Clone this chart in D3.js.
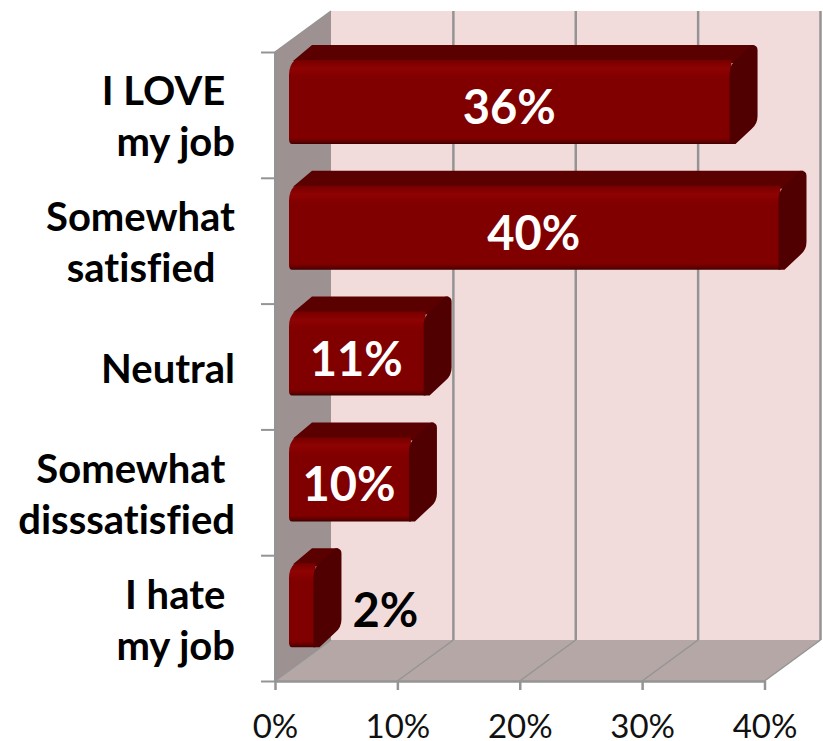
<!DOCTYPE html>
<html><head><meta charset="utf-8">
<script src="https://cdn.jsdelivr.net/npm/d3@7"></script>
<style>html,body{margin:0;padding:0;background:#fff}svg{display:block}text{font-family:Lato,"Open Sans",sans-serif;font-variant-ligatures:none;white-space:pre}</style>
</head><body><svg id="c" width="823" height="741"></svg>
<script>
const categoryLines = [["I LOVE ","my job"],["Somewhat","satisfied  "],["Neutral"],["Somewhat ","disssatisfied"],["I hate ","my job"]];
const values = [36, 40, 11, 9.8, 2];
const valueLabels = ["36%","40%","11%","10%","2%"];
const xTicks = [0, 10, 20, 30, 40];
const AXIS = "#949494";

const svg = d3.select("#c");
const defs = svg.append("defs");
const x = d3.scaleLinear().domain([0, 40]).range([275, 764.5]);
const yEdge = d3.scaleLinear().domain([0, 5]).range([52, 681]);
const depthX = 56, depthY = 41;
const barInset = 14, barDX = 28, barDY = 20;

// walls
const topY = yEdge(0), botY = yEdge(5), x0 = x(0), x1 = x(40);
const poly = (pts, fill) => svg.append("polygon").attr("points", pts.map(p => p.join(",")).join(" ")).attr("fill", fill);
poly([[x0+depthX, topY-depthY],[x1+depthX, topY-depthY],[x1+depthX, botY-depthY],[x0+depthX, botY-depthY]], "#f2dcdb");
poly([[x0, topY],[x0+depthX, topY-depthY],[x0+depthX, botY-depthY],[x0, botY]], "#9e9191");
poly([[x0, botY],[x0+depthX, botY-depthY],[x1+depthX, botY-depthY],[x1, botY]], "#b6a7a7");

// gridlines
xTicks.forEach((t, i) => {
  const X = x(t);
  const g = svg.append("g").attr("fill", "none").attr("stroke", AXIS);
  if (i > 0) {
    g.append("line").attr("x1", X+depthX).attr("x2", X+depthX).attr("y1", topY-depthY).attr("y2", botY-depthY).attr("stroke-width", 2.5);
    g.append("line").attr("x1", X).attr("x2", X+depthX).attr("y1", botY).attr("y2", botY-depthY).attr("stroke-width", 1.5);
  }
});
svg.append("line").attr("x1", x0).attr("y1", topY).attr("x2", x0+depthX).attr("y2", topY-depthY).attr("stroke", AXIS).attr("stroke-width", 1.5);
svg.append("line").attr("x1", x0).attr("y1", botY).attr("x2", x0+depthX).attr("y2", botY-depthY).attr("stroke", AXIS).attr("stroke-width", 1.5);

// axes
const xAxis = d3.axisBottom(x).tickValues(xTicks).tickFormat(d => d + "%").tickSize(9).tickSizeOuter(0);
const gx = svg.append("g").attr("transform", `translate(0,${botY})`).call(xAxis);
gx.selectAll("line").attr("stroke", AXIS).attr("stroke-width", 2.5);
gx.select(".domain").attr("stroke", AXIS).attr("stroke-width", 2.5);
gx.selectAll("text").attr("font-size", 33).attr("fill", "#111").attr("dy", 0).attr("y", 57).style("font-family", "Lato");
const yAxis = d3.axisLeft(yEdge).tickValues(d3.range(6)).tickFormat("").tickSize(14).tickSizeOuter(0);
const gy = svg.append("g").attr("transform", `translate(${x0},0)`).call(yAxis);
gy.selectAll("line").attr("stroke", AXIS).attr("stroke-width", 2);
gy.select(".domain").attr("stroke", AXIS).attr("stroke-width", 3);

// gradients
const grad = defs.append("linearGradient").attr("id", "front").attr("x1", 0).attr("x2", 0).attr("y1", 0).attr("y2", 1);
[[0,"#760000"],[0.04,"#800000"],[0.1,"#8e0303"],[0.17,"#860000"],[0.22,"#800000"],[0.93,"#800000"],[0.98,"#5a0000"],[1,"#3a0000"]]
  .forEach(([o,c]) => grad.append("stop").attr("offset", o).attr("stop-color", c));

// bars
values.forEach((v, i) => {
  const yBack = yEdge(i) - 7;
  const yF0 = yBack + barDY - 5;
  const yF1 = yEdge(i) + 92;
  const xL = x(0) + barInset;
  const xR = xL + (x(v) - x(0));
  const g = svg.append("g");
  // top face
  g.append("path").attr("fill", "#5a0000")
    .attr("d", `M${xL+4},${yF0+1} L${xL+23},${yBack} L${xR+barDX-3},${yBack} L${xR+6},${yF0+3} L${xR+2},${yF0+3} Z`);
  // front
  g.append("path").attr("fill", "url(#front)")
    .attr("d", `M${xL+3},${yF1} Q${xL},${yF1} ${xL},${yF1-5} L${xL},${yF0+15} Q${xL},${yF0+5} ${xL+6},${yF0} L${xR+2},${yF0} L${xR+2},${yF1} Z`);
  // side face
  g.append("path").attr("fill", "#500000")
    .attr("d", `M${xR},${yF0+14} Q${xR},${yF0+6} ${xR+5},${yF0+1} L${xR+barDX-6},${yBack} Q${xR+barDX},${yBack} ${xR+barDX},${yBack+5}
      L${xR+barDX},${yF1-barDY-8} Q${xR+barDX},${yF1-barDY} ${xR+barDX-6},${yF1-barDY+5} L${xR+6},${yF1} L${xR},${yF1} Z`);
  // label
  const inside = v > 5;
  g.append("text").text(valueLabels[i])
    .attr("x", inside ? (xL + xR) / 2 : xR + 72)
    .attr("y", yF1 - 20)
    .attr("text-anchor", "middle")
    .attr("font-size", 47).attr("font-weight", 700)
    .attr("fill", inside ? "#fff" : "#000");
});

// category labels
categoryLines.forEach((lines, i) => {
  const cy = (yEdge(i) + yEdge(i+1)) / 2 + 3;
  lines.forEach((l, j) => {
    svg.append("text").text(l)
      .attr("x", 235).attr("text-anchor", "end")
      .attr("y", cy + (j - (lines.length - 1) / 2) * 51 + 13)
      .attr("font-size", 40).attr("font-weight", 700).attr("fill", "#000");
  });
});
</script></body></html>
